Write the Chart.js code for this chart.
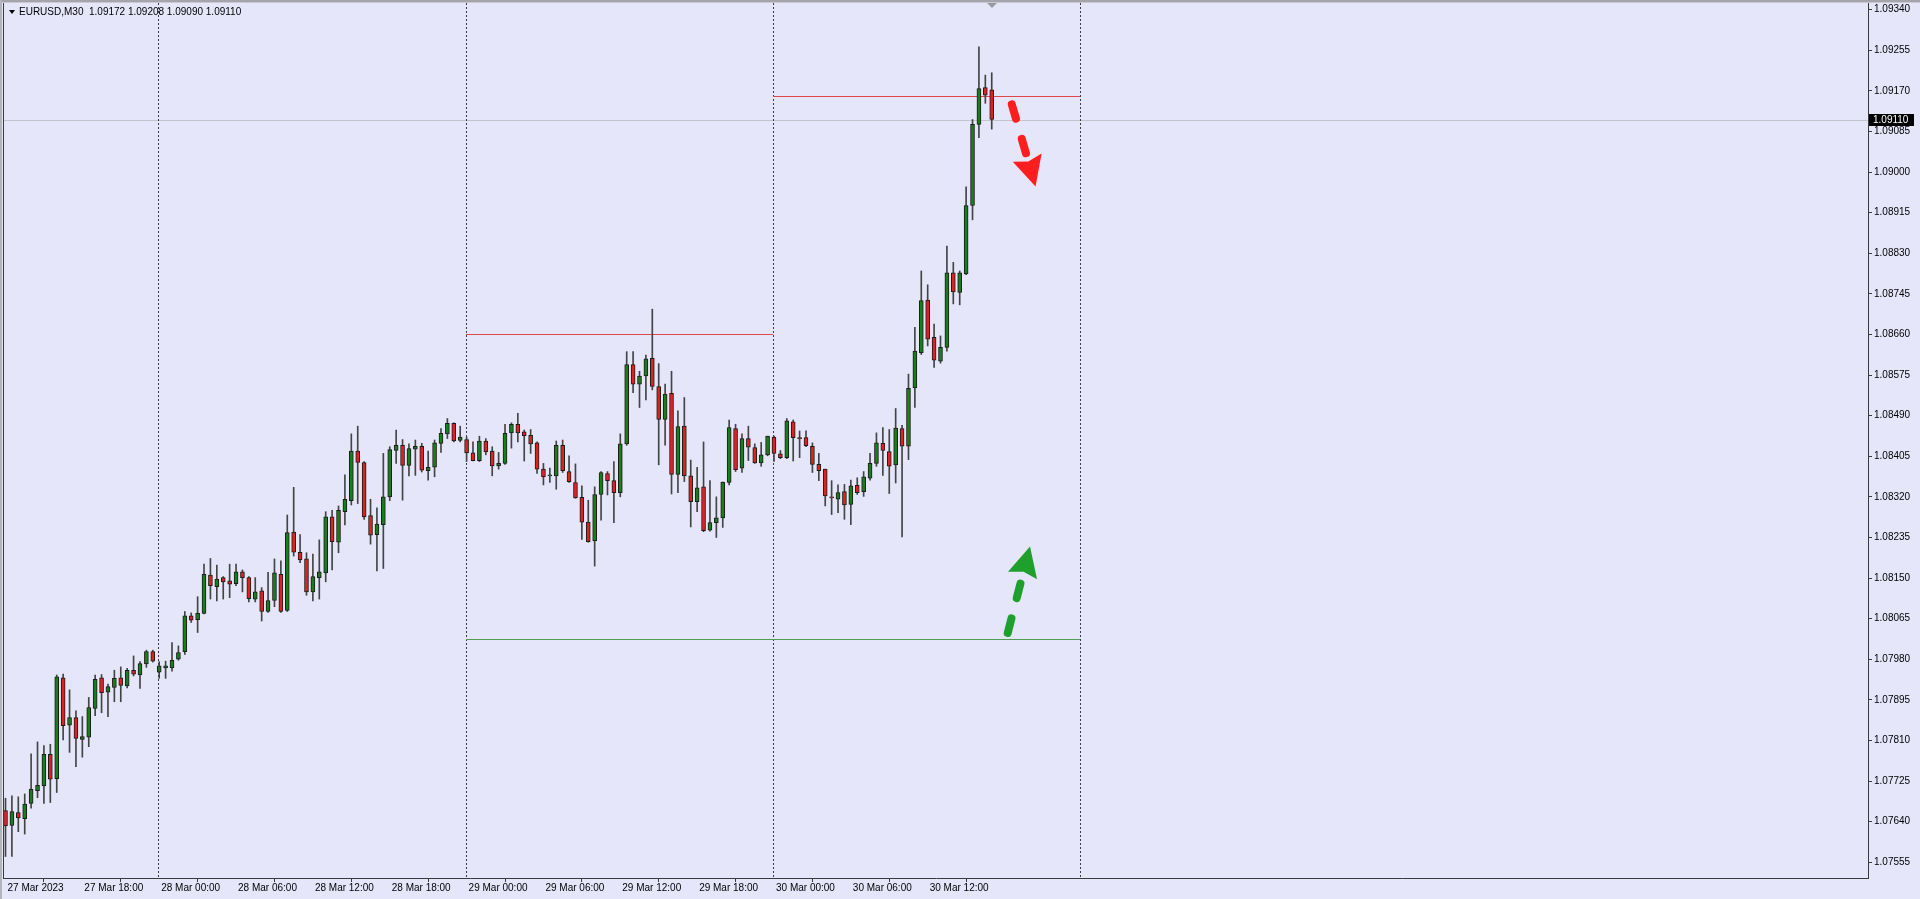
<!DOCTYPE html>
<html>
<head>
<meta charset="utf-8">
<script src="https://cdn.jsdelivr.net/npm/chart.js@4.4.1/dist/chart.umd.min.js"></script>
<style>
  html, body { margin: 0; padding: 0; background: #e6e6fa; overflow: hidden; }
  #wrap { width: 1920px; height: 899px; }
</style>
</head>
<body>
<div id="wrap"><canvas id="eurChart" width="1920" height="899"></canvas></div>
<script>
// EURUSD M30, bars from 27 Mar 12:00 (index 0) to 30 Mar 17:00 (index 154)
const opens = [
  1.07663, 1.07632, 1.07659, 1.07646, 1.07678, 1.07705, 1.07715, 1.07781, 1.07730, 1.07941,
  1.07842, 1.07858, 1.07812, 1.07817, 1.07877, 1.07941, 1.07911, 1.07921, 1.07941, 1.07924,
  1.07957, 1.07947, 1.07970, 1.07996, 1.07953, 1.07962, 1.07962, 1.07980, 1.07996, 1.08071,
  1.08063, 1.08076, 1.08156, 1.08132, 1.08151, 1.08144, 1.08138, 1.08163, 1.08151, 1.08106,
  1.08123, 1.08080, 1.08103, 1.08158, 1.08082, 1.08246, 1.08204, 1.08190, 1.08121, 1.08151,
  1.08161, 1.08278, 1.08225, 1.08289, 1.08312, 1.08416, 1.08392, 1.08281, 1.08241, 1.08262,
  1.08320, 1.08417, 1.08428, 1.08386, 1.08420, 1.08426, 1.08375, 1.08382, 1.08432, 1.08452,
  1.08474, 1.08438, 1.08440, 1.08412, 1.08396, 1.08437, 1.08416, 1.08385, 1.08390, 1.08454,
  1.08472, 1.08456, 1.08449, 1.08433, 1.08378, 1.08364, 1.08364, 1.08428, 1.08373, 1.08350,
  1.08319, 1.08267, 1.08228, 1.08325, 1.08369, 1.08354, 1.08329, 1.08431, 1.08597, 1.08556,
  1.08573, 1.08610, 1.08551, 1.08482, 1.08537, 1.08367, 1.08468, 1.08364, 1.08310, 1.08341,
  1.08250, 1.08266, 1.08276, 1.08350, 1.08463, 1.08380, 1.08442, 1.08423, 1.08391, 1.08408,
  1.08445, 1.08410, 1.08402, 1.08477, 1.08444, 1.08444, 1.08426, 1.08388, 1.08378, 1.08320,
  1.08315, 1.08331, 1.08304, 1.08344, 1.08331, 1.08359, 1.08390, 1.08432, 1.08415, 1.08387,
  1.08463, 1.08426, 1.08548, 1.08622, 1.08732, 1.08654, 1.08604, 1.08633, 1.08789, 1.08748,
  1.08787, 1.08930, 1.09100, 1.09177, 1.09172
];
const highs = [
  1.07689, 1.07694, 1.07692, 1.07698, 1.07782, 1.07807, 1.07799, 1.07802, 1.07947, 1.07949,
  1.07916, 1.07872, 1.07860, 1.07900, 1.07947, 1.07948, 1.07928, 1.07957, 1.07964, 1.07961,
  1.07987, 1.07975, 1.07999, 1.07999, 1.07975, 1.07976, 1.08015, 1.08008, 1.08080, 1.08077,
  1.08111, 1.08179, 1.08191, 1.08177, 1.08153, 1.08179, 1.08179, 1.08167, 1.08153, 1.08151,
  1.08130, 1.08162, 1.08190, 1.08186, 1.08282, 1.08340, 1.08241, 1.08203, 1.08200, 1.08230,
  1.08289, 1.08292, 1.08301, 1.08366, 1.08452, 1.08468, 1.08394, 1.08315, 1.08297, 1.08411,
  1.08425, 1.08460, 1.08440, 1.08431, 1.08439, 1.08432, 1.08416, 1.08439, 1.08463, 1.08484,
  1.08475, 1.08468, 1.08445, 1.08435, 1.08447, 1.08442, 1.08425, 1.08413, 1.08472, 1.08475,
  1.08495, 1.08460, 1.08461, 1.08435, 1.08390, 1.08380, 1.08437, 1.08439, 1.08406, 1.08389,
  1.08343, 1.08313, 1.08341, 1.08373, 1.08373, 1.08394, 1.08452, 1.08624, 1.08624, 1.08583,
  1.08617, 1.08713, 1.08599, 1.08556, 1.08583, 1.08500, 1.08528, 1.08397, 1.08382, 1.08435,
  1.08354, 1.08320, 1.08351, 1.08481, 1.08472, 1.08452, 1.08468, 1.08431, 1.08434, 1.08447,
  1.08447, 1.08417, 1.08484, 1.08481, 1.08458, 1.08458, 1.08433, 1.08411, 1.08378, 1.08354,
  1.08345, 1.08346, 1.08355, 1.08360, 1.08373, 1.08411, 1.08454, 1.08465, 1.08461, 1.08505,
  1.08470, 1.08577, 1.08675, 1.08793, 1.08764, 1.08682, 1.08657, 1.08845, 1.08811, 1.08793,
  1.08969, 1.09110, 1.09262, 1.09203, 1.09208
];
const lows = [
  1.07567, 1.07567, 1.07619, 1.07614, 1.07668, 1.07690, 1.07678, 1.07680, 1.07701, 1.07811,
  1.07785, 1.07755, 1.07775, 1.07797, 1.07862, 1.07868, 1.07860, 1.07891, 1.07891, 1.07920,
  1.07945, 1.07919, 1.07963, 1.07974, 1.07940, 1.07940, 1.07955, 1.07978, 1.07990, 1.08057,
  1.08036, 1.08075, 1.08106, 1.08102, 1.08106, 1.08109, 1.08134, 1.08121, 1.08100, 1.08100,
  1.08060, 1.08078, 1.08090, 1.08078, 1.08080, 1.08196, 1.08182, 1.08114, 1.08102, 1.08106,
  1.08142, 1.08167, 1.08203, 1.08261, 1.08303, 1.08306, 1.08273, 1.08221, 1.08165, 1.08170,
  1.08312, 1.08390, 1.08313, 1.08364, 1.08365, 1.08372, 1.08355, 1.08362, 1.08413, 1.08442,
  1.08435, 1.08435, 1.08394, 1.08395, 1.08394, 1.08408, 1.08364, 1.08378, 1.08388, 1.08422,
  1.08435, 1.08395, 1.08411, 1.08369, 1.08345, 1.08350, 1.08336, 1.08371, 1.08350, 1.08317,
  1.08231, 1.08225, 1.08175, 1.08271, 1.08324, 1.08266, 1.08320, 1.08428, 1.08538, 1.08507,
  1.08523, 1.08544, 1.08387, 1.08428, 1.08326, 1.08329, 1.08352, 1.08257, 1.08289, 1.08247,
  1.08248, 1.08235, 1.08256, 1.08345, 1.08373, 1.08371, 1.08396, 1.08390, 1.08384, 1.08406,
  1.08394, 1.08400, 1.08400, 1.08395, 1.08402, 1.08425, 1.08371, 1.08354, 1.08301, 1.08283,
  1.08287, 1.08273, 1.08262, 1.08325, 1.08321, 1.08355, 1.08384, 1.08365, 1.08327, 1.08349,
  1.08236, 1.08398, 1.08507, 1.08618, 1.08636, 1.08591, 1.08600, 1.08625, 1.08724, 1.08722,
  1.08785, 1.08900, 1.09072, 1.09144, 1.09090
];
const closes = [
  1.07631, 1.07661, 1.07648, 1.07677, 1.07708, 1.07716, 1.07781, 1.07729, 1.07943, 1.07841,
  1.07858, 1.07814, 1.07818, 1.07879, 1.07938, 1.07910, 1.07923, 1.07940, 1.07925, 1.07957,
  1.07949, 1.07971, 1.07996, 1.07976, 1.07966, 1.07966, 1.07978, 1.07994, 1.08071, 1.08062,
  1.08076, 1.08158, 1.08134, 1.08148, 1.08142, 1.08137, 1.08163, 1.08151, 1.08107, 1.08121,
  1.08080, 1.08103, 1.08161, 1.08080, 1.08245, 1.08204, 1.08188, 1.08121, 1.08153, 1.08163,
  1.08278, 1.08226, 1.08292, 1.08315, 1.08416, 1.08392, 1.08278, 1.08240, 1.08263, 1.08320,
  1.08419, 1.08428, 1.08386, 1.08421, 1.08426, 1.08376, 1.08382, 1.08433, 1.08453, 1.08474,
  1.08437, 1.08445, 1.08412, 1.08396, 1.08437, 1.08414, 1.08385, 1.08390, 1.08453, 1.08472,
  1.08454, 1.08448, 1.08431, 1.08378, 1.08362, 1.08364, 1.08428, 1.08375, 1.08352, 1.08318,
  1.08267, 1.08226, 1.08325, 1.08371, 1.08354, 1.08329, 1.08431, 1.08597, 1.08556, 1.08573,
  1.08609, 1.08551, 1.08482, 1.08535, 1.08367, 1.08467, 1.08364, 1.08310, 1.08339, 1.08249,
  1.08266, 1.08276, 1.08351, 1.08465, 1.08377, 1.08442, 1.08424, 1.08391, 1.08408, 1.08447,
  1.08411, 1.08402, 1.08479, 1.08444, 1.08442, 1.08427, 1.08388, 1.08375, 1.08322, 1.08318,
  1.08329, 1.08303, 1.08343, 1.08329, 1.08362, 1.08390, 1.08433, 1.08417, 1.08384, 1.08464,
  1.08426, 1.08547, 1.08625, 1.08731, 1.08650, 1.08606, 1.08633, 1.08789, 1.08749, 1.08789,
  1.08930, 1.09100, 1.09175, 1.09161, 1.09110
];

// axis ticks
const timeTickIdx = [0, 12, 24, 36, 48, 60, 72, 84, 96, 108, 120, 132, 144];
const timeTickLabels = ["27 Mar 2023", "27 Mar 18:00", "28 Mar 00:00", "28 Mar 06:00", "28 Mar 12:00",
  "28 Mar 18:00", "29 Mar 00:00", "29 Mar 06:00", "29 Mar 12:00", "29 Mar 18:00",
  "30 Mar 00:00", "30 Mar 06:00", "30 Mar 12:00"];
const priceTicks = [1.07555, 1.07640, 1.07725, 1.07810, 1.07895, 1.07980, 1.08065, 1.08150, 1.08235,
  1.08320, 1.08405, 1.08490, 1.08575, 1.08660, 1.08745, 1.08830, 1.08915, 1.09000, 1.09085,
  1.09170, 1.09255, 1.09340];

// day separators (bar index) and drawn levels
const separatorIdx = [24, 72, 120, 168];
const levelPrice = [1.09160, 1.08660, 1.08022];
const levelFrom = [120, 72, 72];
const levelTo = [168, 120, 168];
const levelColor = ["#e04848", "#e04848", "#4f9f4f"];

// hand-drawn arrows: [index, price] start -> tip
const arrowStart = [[156.96, 1.09150], [156.34, 1.08027]];
const arrowTip = [[160.84, 1.08970], [159.98, 1.08216]];
const arrowColor = ["#ff1e1e", "#1f9f2c"];

const symbolName = "EURUSD,M30";
const last = closes.length - 1;

const bullColor = "#1b7c1b";
const bearColor = "#dd2222";

const wickData = highs.map((h, i) => ({ x: i, y: [lows[i], h] }));
const bodyData = opens.map((o, i) => ({ x: i, y: [o, closes[i]] }));
const bodyColors = opens.map((o, i) => closes[i] >= o ? bullColor : bearColor);

function drawArrow(ctx, x0, y0, x1, y1, color) {
    const dx = x1 - x0, dy = y1 - y0;
    const len = Math.sqrt(dx * dx + dy * dy);
    const ux = dx / len, uy = dy / len;
    const headLen = 30, headHalf = 15;
    const bx = x1 - ux * headLen, by = y1 - uy * headLen;

    ctx.save();
    ctx.strokeStyle = color;
    ctx.fillStyle = color;
    ctx.lineWidth = 8;
    ctx.lineCap = "round";
    ctx.setLineDash([15, 21]);
    ctx.beginPath();
    ctx.moveTo(x0 + ux * 4, y0 + uy * 4);
    ctx.lineTo(bx, by);
    ctx.stroke();
    ctx.setLineDash([]);
    ctx.beginPath();
    ctx.moveTo(x1, y1);
    ctx.lineTo(bx - uy * headHalf, by + ux * headHalf);
    ctx.lineTo(bx + ux * 4, by + uy * 4);
    ctx.lineTo(bx + uy * headHalf, by - ux * headHalf);
    ctx.closePath();
    ctx.fill();
    ctx.restore();
}

const decorPlugin = {
    id: "decor",
    beforeDraw(chart) {
        const ctx = chart.ctx;
        ctx.save();
        ctx.fillStyle = "#e6e6fa";
        ctx.fillRect(0, 0, chart.width, chart.height);
        ctx.restore();
    },
    beforeDatasetsDraw(chart) {
        const { ctx, chartArea: a, scales: { x, y } } = chart;
        ctx.save();
        // current price line
        const py = Math.round(y.getPixelForValue(closes[last])) + 0.5;
        ctx.strokeStyle = "#c4c4cc";
        ctx.lineWidth = 1;
        ctx.beginPath();
        ctx.moveTo(a.left, py);
        ctx.lineTo(a.right, py);
        ctx.stroke();

        // period separators
        ctx.strokeStyle = "#3a3a3a";
        ctx.setLineDash([2, 2]);
        separatorIdx.forEach(s => {
            const sx = Math.round(x.getPixelForValue(s)) - 0.5;
            ctx.beginPath();
            ctx.moveTo(sx, a.top);
            ctx.lineTo(sx, a.bottom);
            ctx.stroke();
        });
        ctx.setLineDash([]);

        // horizontal levels
        levelPrice.forEach((p, k) => {
            const ly = Math.round(y.getPixelForValue(p)) + 0.5;
            ctx.strokeStyle = levelColor[k];
            ctx.beginPath();
            ctx.moveTo(Math.round(x.getPixelForValue(levelFrom[k])) - 1, ly);
            ctx.lineTo(Math.round(x.getPixelForValue(levelTo[k])) - 1, ly);
            ctx.stroke();
        });
        ctx.restore();
    },
    afterDraw(chart) {
        const { ctx, chartArea: a, scales: { x, y } } = chart;

        arrowStart.forEach((s, k) => {
            drawArrow(ctx,
                x.getPixelForValue(s[0]), y.getPixelForValue(s[1]),
                x.getPixelForValue(arrowTip[k][0]), y.getPixelForValue(arrowTip[k][1]),
                arrowColor[k]);
        });

        ctx.save();
        // window frame bits
        ctx.fillStyle = "#a4a4aa";
        ctx.fillRect(0, 0, chart.width, 2);
        ctx.fillStyle = "#c9c9d2";
        ctx.fillRect(0, 2, chart.width, 1);
        ctx.fillStyle = "#b4b4bc";
        ctx.fillRect(0, 0, 2, chart.height);
        ctx.fillStyle = "#3a3a3a";
        ctx.fillRect(a.left - 1, a.top, 1, a.bottom - a.top + 1);

        // chart shift marker
        const sx = Math.round(x.getPixelForValue(last));
        ctx.fillStyle = "#9a9aa2";
        ctx.beginPath();
        ctx.moveTo(sx - 5, 3);
        ctx.lineTo(sx + 5, 3);
        ctx.lineTo(sx, 8);
        ctx.closePath();
        ctx.fill();

        // title
        ctx.fillStyle = "#000";
        ctx.beginPath();
        ctx.moveTo(9, 10);
        ctx.lineTo(15, 10);
        ctx.lineTo(12, 14);
        ctx.closePath();
        ctx.fill();
        ctx.font = '10px "Liberation Sans", Arial, sans-serif';
        ctx.textBaseline = "middle";
        ctx.textAlign = "left";
        const f = v => v.toFixed(5);
        ctx.fillText(symbolName + "  " + f(opens[last]) + " " + f(highs[last]) + " " + f(lows[last]) + " " + f(closes[last]), 19, 12.5);

        // current price label on the axis
        const py = Math.round(y.getPixelForValue(closes[last]));
        ctx.fillStyle = "#000";
        ctx.fillRect(a.right + 1, py - 6, 45, 12);
        ctx.fillStyle = "#fff";
        ctx.fillText(f(closes[last]), a.right + 5, py + 0.5);
        ctx.restore();
    }
};

const ctx = document.getElementById("eurChart").getContext("2d");

new Chart(ctx, {
    type: "bar",
    data: {
        datasets: [
            {
                label: "body",
                data: bodyData,
                order: 1,
                grouped: false,
                barThickness: 4,
                minBarLength: 1,
                backgroundColor: bodyColors,
                borderColor: "#1c1c1c",
                borderWidth: 1,
                borderSkipped: false
            },
            {
                label: "wick",
                data: wickData,
                order: 2,
                grouped: false,
                barThickness: 1,
                backgroundColor: "#444444",
                borderWidth: 0
            }
        ]
    },
    options: {
        responsive: false,
        animation: false,
        devicePixelRatio: 1,
        events: [],
        layout: { padding: { left: 4, top: 3, right: 0, bottom: 0 } },
        plugins: {
            legend: { display: false },
            tooltip: { enabled: false },
            title: { display: false }
        },
        scales: {
            x: {
                type: "linear",
                position: "bottom",
                min: -0.234,
                max: 290.83,
                offset: false,
                grid: { drawOnChartArea: false, drawTicks: true, tickLength: 4, color: "#3a3a3a" },
                border: { display: true, color: "#3a3a3a" },
                ticks: {
                    align: "start",
                    autoSkip: false,
                    maxRotation: 0,
                    padding: 0,
                    labelOffset: 2,
                    color: "#000",
                    font: { family: '"Liberation Sans", Arial, sans-serif', size: 10 },
                    callback: (v, i) => timeTickLabels[i]
                },
                afterBuildTicks: s => { s.ticks = timeTickIdx.map(v => ({ value: v })); },
                afterFit: s => { s.height = 21; s.paddingLeft = 0; s.paddingRight = 0; }
            },
            y: {
                type: "linear",
                position: "right",
                min: 1.07522,
                max: 1.09354,
                grid: { drawOnChartArea: false, drawTicks: true, tickLength: 4, color: "#3a3a3a" },
                border: { display: true, color: "#3a3a3a" },
                ticks: {
                    padding: 2,
                    color: "#000",
                    font: { family: '"Liberation Sans", Arial, sans-serif', size: 10 },
                    callback: v => v.toFixed(5)
                },
                afterBuildTicks: s => { s.ticks = priceTicks.map(v => ({ value: v })); },
                afterFit: s => { s.width = 52; s.paddingTop = 0; s.paddingBottom = 0; }
            }
        }
    },
    plugins: [decorPlugin]
});
</script>
</body>
</html>
